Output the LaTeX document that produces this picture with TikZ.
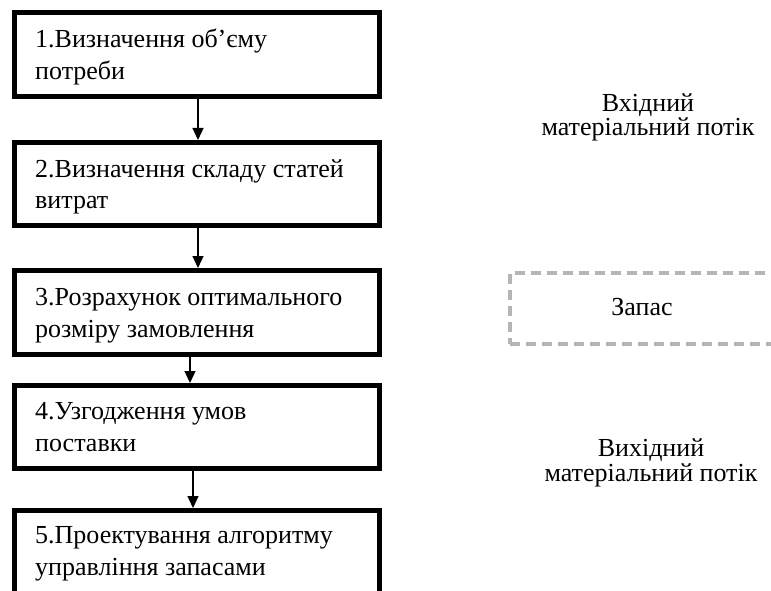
\documentclass[tikz,border=0pt]{standalone}
\usepackage{fontspec}
\setmainfont{Liberation Serif}
\usetikzlibrary{arrows.meta}
\definecolor{dashgray}{RGB}{180,182,182}
\newcommand\boxtext[2]{\vtop{\hbox{#1}\hbox{#2}}}
\begin{document}
\begin{tikzpicture}[x=1pt,y=-1pt,
  stepbox/.style={draw=black, line width=5pt, rectangle, anchor=north west, minimum width=365pt, inner sep=0pt},
  steptext/.style={anchor=base west, inner sep=0pt, font=\fontsize{26}{32}\selectfont},
  flowtext/.style={anchor=base, inner sep=0pt, font=\fontsize{26}{24.5}\selectfont},
  arr/.style={line width=1.3pt, -{Triangle[length=12pt,width=11pt]}},
  stockbox/.style={draw=dashgray, line width=4pt, dash pattern=on 10pt off 6pt, rectangle, anchor=north west, minimum width=300pt, minimum height=71pt, inner sep=0pt}]
\useasboundingbox (0,0) rectangle (771,591);
\clip (0,0) rectangle (771,591);
\node[stepbox, minimum height=84pt] (b1) at (12,10) {};
\node[stepbox, minimum height=83pt] (b2) at (12,140) {};
\node[stepbox, minimum height=84pt] (b3) at (12,268) {};
\node[stepbox, minimum height=83pt] (b4) at (12,383) {};
\node[stepbox, minimum height=110pt] (b5) at (12,508) {};
\node[steptext] (t1) at (35,48) {\boxtext{1.Визначення об’єму}{потреби}};
\node[steptext] (t2) at (35,177) {\boxtext{2.Визначення складу статей}{витрат}};
\node[steptext] (t3) at (35,305) {\boxtext{3.Розрахунок оптимального}{розміру замовлення}};
\node[steptext] (t4) at (35,419) {\boxtext{4.Узгодження умов}{поставки}};
\node[steptext] (t5) at (35,543) {\boxtext{5.Проектування алгоритму}{управління запасами}};
\draw[arr] ([xshift=1pt]b1.south) -- ([xshift=1pt]b2.north);
\draw[arr] ([xshift=1pt]b2.south) -- ([xshift=1pt]b3.north);
\draw[arr] ([xshift=-7pt]b3.south) -- ([xshift=-7pt]b4.north);
\draw[arr] ([xshift=-4pt]b4.south) -- ([xshift=-4pt]b5.north);
\node[stockbox] (stock) at (508,271) {};
\node[flowtext] (in) at (648,111.5) {\parbox[t]{260pt}{\centering Вхідний\\матеріальний потік}};
\node[flowtext] (zap) at (642,315) {Запас};
\node[flowtext] (out) at (651,456.5) {\parbox[t]{260pt}{\centering Вихідний\\матеріальний потік}};
\end{tikzpicture}
\end{document}
